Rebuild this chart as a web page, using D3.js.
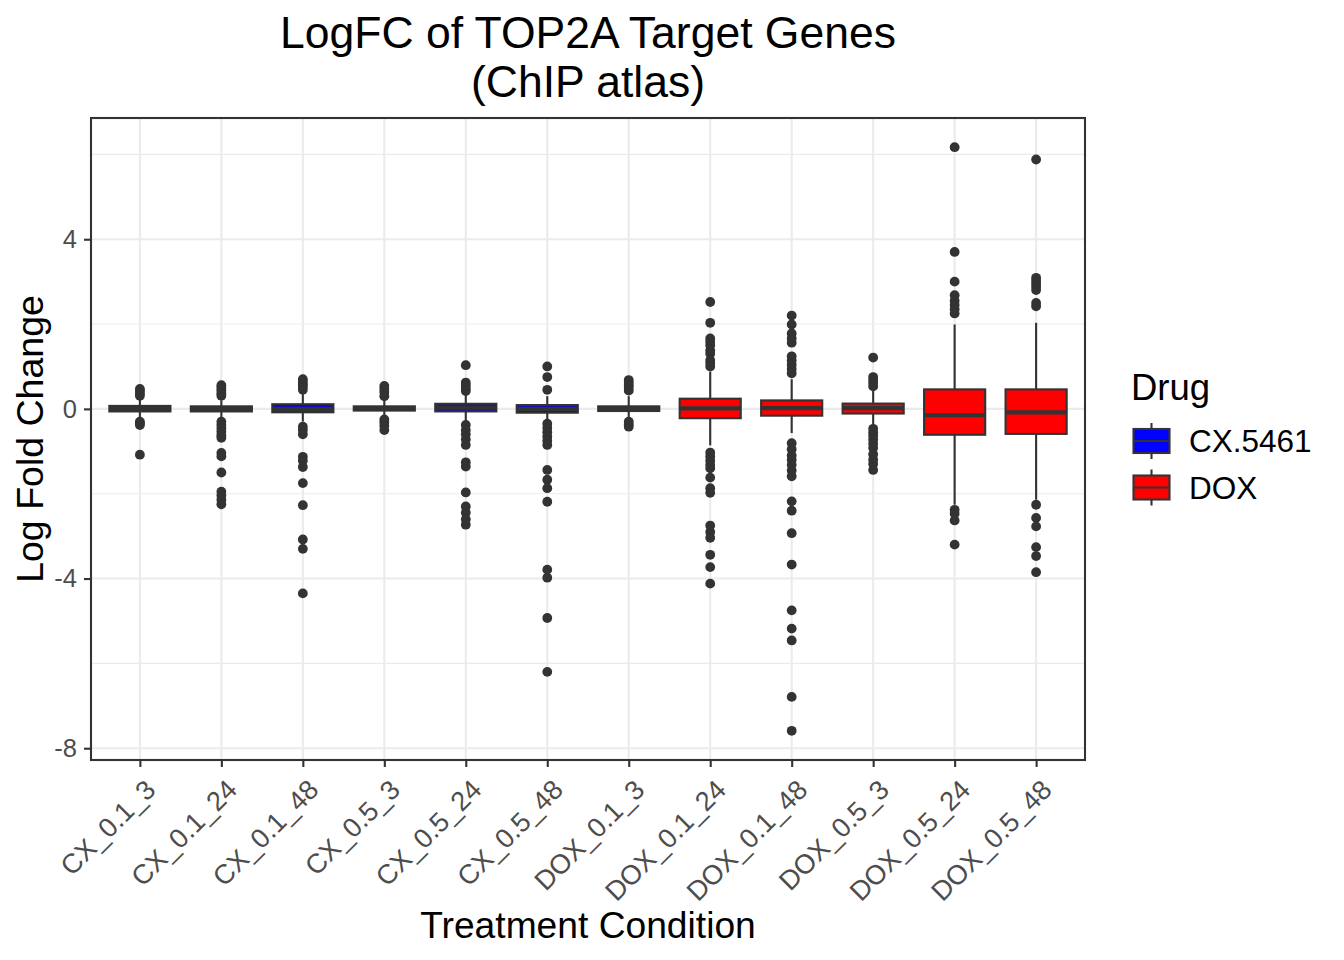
<!DOCTYPE html>
<html>
<head>
<meta charset="utf-8">
<script src="https://cdn.jsdelivr.net/npm/d3@7"></script>
<style>
  body { margin: 0; background: #fff; }
  text { font-family: "Liberation Sans", Arial, sans-serif; }
</style>
</head>
<body>
<script>
// conditions, in plot order
var groups = ["CX_0.1_3", "CX_0.1_24", "CX_0.1_48", "CX_0.5_3", "CX_0.5_24", "CX_0.5_48",
              "DOX_0.1_3", "DOX_0.1_24", "DOX_0.1_48", "DOX_0.5_3", "DOX_0.5_24", "DOX_0.5_48"];
var drug = ["CX.5461", "CX.5461", "CX.5461", "CX.5461", "CX.5461", "CX.5461",
            "DOX", "DOX", "DOX", "DOX", "DOX", "DOX"];
var drugs = ["CX.5461", "DOX"];
var drugColors = ["#0000FF", "#FF0000"];

// box statistics
var q1  = [-0.06, -0.06, -0.08, -0.04, -0.06, -0.09, -0.05, -0.22, -0.16, -0.11, -0.61, -0.59];
var med = [ 0.00,  0.00,  0.00,  0.00,  0.03,  0.00,  0.00,  0.01,  0.02,  0.02, -0.15, -0.08];
var q3  = [ 0.07,  0.06,  0.11,  0.06,  0.12,  0.09,  0.06,  0.24,  0.20,  0.125, 0.46,  0.46];
var whiskLo = [-0.20, -0.20, -0.30, -0.18, -0.30, -0.30, -0.20, -0.86, -0.57, -0.42, -2.26, -2.14];
var whiskHi = [ 0.22,  0.20,  0.35,  0.20,  0.35,  0.30,  0.30,  0.88,  0.70,  0.45,  1.99,  2.03];
var outliers = [
  [0.47, 0.42, 0.36, 0.31, -0.30, -0.34, -0.38, -1.08],
  [0.56, 0.50, 0.44, 0.37, 0.31, -0.30, -0.38, -0.46, -0.54, -0.62, -0.68, -1.04, -1.12, -1.50, -1.95, -2.04, -2.14, -2.25],
  [0.70, 0.64, 0.58, 0.52, 0.45, -0.42, -0.50, -0.60, -1.13, -1.22, -1.37, -1.75, -2.27, -3.08, -3.30, -4.35],
  [0.54, 0.47, 0.40, 0.30, -0.25, -0.32, -0.40, -0.50],
  [1.03, 0.62, 0.55, 0.48, 0.42, -0.38, -0.50, -0.60, -0.72, -0.85, -1.26, -1.36, -1.97, -2.30, -2.45, -2.60, -2.73],
  [1.00, 0.75, 0.45, -0.35, -0.45, -0.55, -0.65, -0.75, -0.85, -1.44, -1.67, -1.87, -2.19, -3.79, -3.98, -4.93, -6.20],
  [0.68, 0.62, 0.56, 0.50, 0.43, -0.30, -0.36, -0.42],
  [2.52, 2.03, 1.66, 1.58, 1.50, 1.38, 1.30, 1.15, 1.08, 1.00, -1.03, -1.12, -1.22, -1.32, -1.40, -1.62, -1.87, -1.98, -2.75, -2.90, -3.04, -3.44, -3.73, -4.12],
  [2.20, 1.99, 1.78, 1.66, 1.56, 1.24, 1.14, 1.04, 0.94, 0.84, -0.81, -0.95, -1.10, -1.20, -1.32, -1.45, -1.59, -2.18, -2.40, -2.93, -3.67, -4.75, -5.18, -5.46, -6.79, -7.59],
  [1.21, 0.75, 0.68, 0.61, 0.53, -0.47, -0.55, -0.63, -0.72, -0.82, -0.92, -1.07, -1.20, -1.30, -1.44],
  [6.17, 3.70, 3.00, 2.68, 2.55, 2.45, 2.35, 2.25, -2.38, -2.47, -2.63, -3.20],
  [5.88, 3.09, 3.02, 2.95, 2.88, 2.80, 2.50, 2.42, -2.26, -2.57, -2.77, -3.26, -3.47, -3.85]
];
var yTicks = [-8, -4, 0, 4];
var yMinor = [-6, -2, 2, 6];

var width = 1344, height = 960;
var panel = { left: 91, right: 1085, top: 118, bottom: 760 };
var dark = "#333333", tickGrey = "#4D4D4D", gridGrey = "#EBEBEB";

var svg = d3.select("body").append("svg")
  .attr("width", width).attr("height", height);
svg.append("rect").attr("width", width).attr("height", height).attr("fill", "#fff");

// scales (ggplot-ish: 5% expansion on y, 0.6 on discrete x)
var all = d3.merge(outliers).concat(whiskLo, whiskHi);
var lo = d3.min(all), hi = d3.max(all), pad = (hi - lo) * 0.05;
var y = d3.scaleLinear().domain([lo - pad, hi + pad]).range([panel.bottom, panel.top]);
var x = d3.scalePoint().domain(groups).range([panel.left, panel.right]).padding(0.6);
var bw = x.step() * 0.75;
var color = d3.scaleOrdinal().domain(drugs).range(drugColors);

// grid
var grid = svg.append("g");
grid.selectAll(".minor").data(yMinor).enter().append("line")
  .attr("x1", panel.left).attr("x2", panel.right)
  .attr("y1", function (d) { return y(d) }).attr("y2", function (d) { return y(d) })
  .attr("stroke", gridGrey).attr("stroke-width", 1.1);
grid.selectAll(".major").data(yTicks).enter().append("line")
  .attr("x1", panel.left).attr("x2", panel.right)
  .attr("y1", function (d) { return y(d) }).attr("y2", function (d) { return y(d) })
  .attr("stroke", gridGrey).attr("stroke-width", 2.1);
grid.selectAll(".vmajor").data(groups).enter().append("line")
  .attr("y1", panel.top).attr("y2", panel.bottom)
  .attr("x1", function (d) { return x(d) }).attr("x2", function (d) { return x(d) })
  .attr("stroke", gridGrey).attr("stroke-width", 2.1);

// boxes
var boxes = svg.append("g").selectAll("g").data(groups).enter().append("g");

boxes.each(function (g, i) {
  var el = d3.select(this), cx = x(g);
  el.selectAll("circle").data(outliers[i]).enter().append("circle")
    .attr("cx", cx).attr("cy", function (d) { return y(d) })
    .attr("r", 4.9).attr("fill", dark);
  el.append("line").attr("x1", cx).attr("x2", cx)
    .attr("y1", y(q3[i])).attr("y2", y(whiskHi[i]))
    .attr("stroke", dark).attr("stroke-width", 2.1);
  el.append("line").attr("x1", cx).attr("x2", cx)
    .attr("y1", y(q1[i])).attr("y2", y(whiskLo[i]))
    .attr("stroke", dark).attr("stroke-width", 2.1);
  el.append("rect")
    .attr("x", cx - bw / 2).attr("width", bw)
    .attr("y", y(q3[i])).attr("height", y(q1[i]) - y(q3[i]))
    .attr("fill", color(drug[i])).attr("stroke", dark).attr("stroke-width", 2.1);
  el.append("line")
    .attr("x1", cx - bw / 2).attr("x2", cx + bw / 2)
    .attr("y1", y(med[i])).attr("y2", y(med[i]))
    .attr("stroke", dark).attr("stroke-width", 4.2);
});

// panel border
svg.append("rect")
  .attr("x", panel.left).attr("y", panel.top)
  .attr("width", panel.right - panel.left).attr("height", panel.bottom - panel.top)
  .attr("fill", "none").attr("stroke", dark).attr("stroke-width", 2.1);

// y axis
var yAxis = svg.append("g").attr("transform", "translate(" + panel.left + ",0)")
  .call(d3.axisLeft(y).tickValues(yTicks).tickSize(7).tickPadding(7)
        .tickFormat(function (d) { return String(d) }));
yAxis.select(".domain").remove();
yAxis.selectAll(".tick line").attr("stroke", dark).attr("stroke-width", 2.1);
yAxis.selectAll(".tick text").attr("fill", tickGrey).style("font-size", "25.5px")
  .style("font-family", "'Liberation Sans', Arial, sans-serif");

// x axis
var xAxis = svg.append("g").attr("transform", "translate(0," + panel.bottom + ")")
  .call(d3.axisBottom(x).tickSize(7).tickFormat(""));
xAxis.select(".domain").remove();
xAxis.selectAll(".tick line").attr("stroke", dark).attr("stroke-width", 2.1);

svg.append("g").selectAll("text").data(groups).enter().append("text")
  .attr("transform", function (d) { return "translate(" + (x(d) + 3) + "," + (panel.bottom + 17) + ") rotate(-45)" })
  .attr("text-anchor", "end").attr("dy", "0.75em")
  .attr("fill", tickGrey).style("font-size", "27.2px")
  .text(function (d) { return d });

// titles
svg.append("text").attr("x", (panel.left + panel.right) / 2).attr("y", 48)
  .attr("text-anchor", "middle").style("font-size", "44.5px").text("LogFC of TOP2A Target Genes");
svg.append("text").attr("x", (panel.left + panel.right) / 2).attr("y", 97)
  .attr("text-anchor", "middle").style("font-size", "44.5px").text("(ChIP atlas)");
svg.append("text").attr("x", (panel.left + panel.right) / 2).attr("y", 938)
  .attr("text-anchor", "middle").style("font-size", "37.2px").text("Treatment Condition");
svg.append("text")
  .attr("transform", "translate(43," + ((panel.top + panel.bottom) / 2) + ") rotate(-90)")
  .attr("text-anchor", "middle").style("font-size", "37.5px").text("Log Fold Change");

// legend
var legend = svg.append("g").attr("transform", "translate(1131,0)");
legend.append("text").attr("x", 0).attr("y", 400).style("font-size", "36.5px").text("Drug");
var keys = legend.selectAll(".key").data(drugs).enter().append("g")
  .attr("transform", function (d, i) { return "translate(0," + (441 + i * 46.5) + ")" });
keys.append("line").attr("x1", 20.5).attr("x2", 20.5).attr("y1", -18).attr("y2", 18)
  .attr("stroke", dark).attr("stroke-width", 2.1);
keys.append("rect").attr("x", 2.5).attr("y", -12).attr("width", 36).attr("height", 24)
  .attr("fill", function (d) { return color(d) }).attr("stroke", dark).attr("stroke-width", 2.1);
keys.append("line").attr("x1", 2.5).attr("x2", 38.5).attr("y1", 0).attr("y2", 0)
  .attr("stroke", dark).attr("stroke-width", 2.1);
keys.append("text").attr("x", 58).attr("y", 11).style("font-size", "31.5px")
  .text(function (d) { return d });
</script>
</body>
</html>
